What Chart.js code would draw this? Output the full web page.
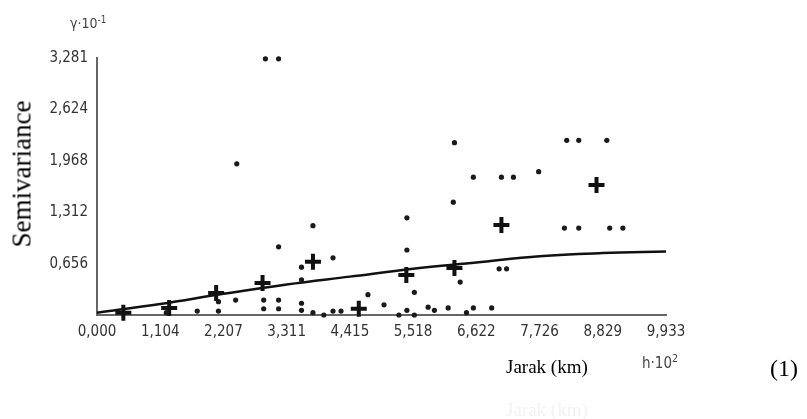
<!DOCTYPE html>
<html>
<head>
<meta charset="utf-8">
<script src="https://cdn.jsdelivr.net/npm/chart.js@4/dist/chart.umd.min.js"></script>
<style>
  html, body { margin: 0; padding: 0; background: #fff; }
  #wrap { position: relative; width: 807px; height: 419px; overflow: hidden; }
  #semiChart { position: absolute; left: 0; top: 0; }
  .lbl { position: absolute; white-space: nowrap; line-height: 1; }
  .serif { font-family: 'Liberation Serif', 'Times New Roman', serif; color: #000; }
  .sans { font-family: 'DejaVu Sans Condensed', 'Liberation Sans', Arial, sans-serif; color: #444; }
  sup { font-size: 70%; vertical-align: 0; position: relative; top: -0.55em; }
</style>
</head>
<body>
<div id="wrap">
  <canvas id="semiChart" width="807" height="419"></canvas>
  <div class="lbl sans" style="left:70px; top:16px; font-size:14px;">γ·10<sup>-1</sup></div>
  <div class="lbl serif" style="left:22px; top:174px; font-size:27px; transform:translate(-50%,-50%) rotate(-90deg);">Semivariance</div>
  <div class="lbl serif" style="left:506px; top:357px; font-size:19px;">Jarak (km)</div>
  <div class="lbl serif" style="left:506px; top:400px; font-size:19px; color:#f2f2f2;">Jarak (km)</div>
  <div class="lbl sans" style="left:642px; top:356px; font-size:15px;">h·10<sup>2</sup></div>
  <div class="lbl serif" style="left:770px; top:356px; font-size:24px;">(1)</div>
</div>
<script>
// tick positions and labels as printed on the figure
const xTicks = [0, 1.104, 2.207, 3.311, 4.415, 5.518, 6.622, 7.726, 8.829, 9.933];
const xTickLabels = ['0,000', '1,104', '2,207', '3,311', '4,415', '5,518', '6,622', '7,726', '8,829', '9,933'];
const yTicks = [0, 0.656, 1.312, 1.968, 2.624, 3.281];
const yTickLabels = ['', '0,656', '1,312', '1,968', '2,624', '3,281'];

// individual pair semivariances (small dots)
const pairX = [2.94, 3.17, 2.44, 6.24, 6.57, 7.06, 7.27, 7.71, 6.22, 5.41,
               3.77, 5.41, 4.12, 3.17, 3.57, 3.57, 5.54, 4.73, 5.01, 6.34,
               3.57, 3.57, 3.77, 3.96, 4.12, 4.26, 5.27, 5.41, 5.54, 5.78,
               5.89, 6.13, 6.45, 6.57, 6.89, 7.02, 7.15, 8.20, 8.41, 8.90,
               8.16, 8.41, 8.95, 9.18, 2.42, 2.12, 2.12, 2.91, 2.91, 3.17,
               3.17, 1.75, 1.21];
const pairY = [3.27, 3.27, 1.93, 2.20, 1.76, 1.76, 1.76, 1.83, 1.44, 1.24,
               1.14, 0.83, 0.73, 0.87, 0.61, 0.45, 0.29, 0.26, 0.13, 0.42,
               0.15, 0.06, 0.03, 0.00, 0.05, 0.05, 0.00, 0.06, 0.00, 0.10,
               0.06, 0.09, 0.03, 0.09, 0.09, 0.59, 0.59, 2.23, 2.23, 2.23,
               1.11, 1.11, 1.11, 1.11, 0.19, 0.17, 0.05, 0.19, 0.08, 0.19,
               0.08, 0.05, 0.03];

// lag averages (crosses)
const lagX = [0.46, 1.26, 2.08, 2.89, 3.77, 4.57, 5.40, 6.24, 7.06, 8.72];
const lagY = [0.03, 0.09, 0.28, 0.41, 0.68, 0.08, 0.51, 0.60, 1.15, 1.66];

// fitted model curve, read at each x tick
const modelX = [0, 1.104, 2.207, 3.311, 4.415, 5.518, 6.622, 7.726, 8.829, 9.933];
const modelY = [0.03, 0.14, 0.27, 0.39, 0.49, 0.59, 0.67, 0.75, 0.79, 0.81];

const toPoints = (xs, ys) => xs.map((x, i) => ({ x: x, y: ys[i] }));

const tickFont = { family: "'DejaVu Sans Condensed', 'Liberation Sans', Arial, sans-serif", size: 15 };

const ctx = document.getElementById('semiChart').getContext('2d');

new Chart(ctx, {
    type: 'scatter',
    data: {
        datasets: [{
            label: 'pairs',
            data: toPoints(pairX, pairY),
            pointStyle: 'circle',
            pointRadius: 2.6,
            pointBackgroundColor: '#1a1a1a',
            pointBorderWidth: 0,
            clip: false
        }, {
            label: 'lags',
            data: toPoints(lagX, lagY),
            pointStyle: 'cross',
            pointRadius: 8,
            pointBorderWidth: 4,
            pointBorderColor: '#111',
            clip: false
        }, {
            label: 'model',
            data: toPoints(modelX, modelY),
            showLine: true,
            borderColor: '#111',
            borderWidth: 2.5,
            pointRadius: 0,
            tension: 0.4,
            clip: false
        }]
    },
    options: {
        responsive: false,
        maintainAspectRatio: false,
        animation: false,
        devicePixelRatio: 1,
        layout: { padding: { left: 0, top: 58, right: 141, bottom: 0 } },
        plugins: {
            legend: { display: false },
            tooltip: { enabled: false }
        },
        scales: {
            x: {
                type: 'linear',
                min: 0,
                max: 9.933,
                grid: { display: false, drawTicks: false },
                border: { display: true, color: '#666', width: 2 },
                afterBuildTicks: (scale) => { scale.ticks = xTicks.map(v => ({ value: v })); },
                afterFit: (scale) => { scale.height = 104; },
                ticks: {
                    autoSkip: false,
                    maxRotation: 0,
                    padding: 8,
                    color: '#333',
                    font: tickFont,
                    callback: (value, index) => xTickLabels[index]
                }
            },
            y: {
                type: 'linear',
                min: 0,
                max: 3.281,
                grid: { display: false, drawTicks: false },
                border: { display: true, color: '#666', width: 2 },
                afterBuildTicks: (scale) => { scale.ticks = yTicks.map(v => ({ value: v })); },
                afterFit: (scale) => { scale.width = 97; },
                ticks: {
                    autoSkip: false,
                    padding: 9,
                    color: '#333',
                    font: tickFont,
                    callback: (value, index) => yTickLabels[index]
                }
            }
        }
    }
});
</script>
</body>
</html>
